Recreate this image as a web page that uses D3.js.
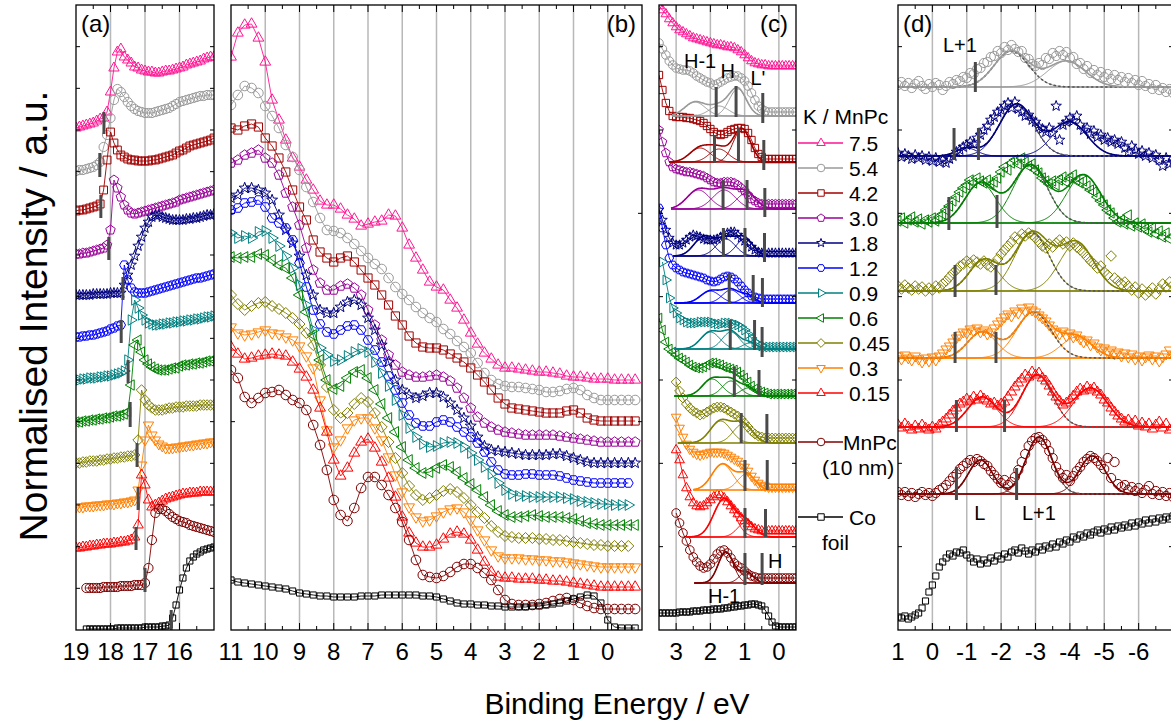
<!DOCTYPE html>
<html>
<head>
<meta charset="utf-8">
<script src="https://cdn.jsdelivr.net/npm/d3@7"></script>
<style>
  body { margin: 0; background: #fff; }
  svg { display: block; }
  text { font-family: "Liberation Sans", Arial, Helvetica, sans-serif; fill: #000; }
</style>
</head>
<body>
<svg id="chart" width="1171" height="724"></svg>
<script>
// ---------- series metadata ----------
const seriesKeys   = ["7.5", "5.4", "4.2", "3.0", "1.8", "1.2", "0.9", "0.6", "0.45", "0.3", "0.15", "MnPc", "Co"];
const seriesColors = ["#ff1493", "#9a9a9a", "#a00000", "#990099", "#000080", "#0000ff", "#008080", "#008000", "#808000", "#ff8000", "#ff0000", "#800000", "#000000"];
const seriesShapes = ["triUp", "circle", "square", "pentagon", "star", "hexagon", "triRight", "triLeft", "diamond", "triDown", "triUp", "circle", "square"];

// ---------- panel (a): 19 -> 15 eV, step 0.1 ----------
const aStart = 19.0, aStep = -0.1;
const a_75   = [5.02,5.03,5.04,5.05,5.06,5.07,5.09,5.11,5.12,5.18,5.38,5.62,5.78,5.81,5.73,5.70,5.67,5.63,5.62,5.60,5.59,5.58,5.58,5.57,5.57,5.58,5.59,5.59,5.60,5.61,5.62,5.63,5.65,5.66,5.67,5.68,5.69,5.71,5.72,5.73,5.73];
const a_54   = [4.59,4.60,4.60,4.61,4.62,4.63,4.65,4.68,4.83,4.95,5.12,5.30,5.41,5.38,5.33,5.28,5.24,5.21,5.19,5.18,5.17,5.17,5.17,5.18,5.19,5.20,5.21,5.22,5.24,5.26,5.28,5.29,5.30,5.31,5.32,5.33,5.34,5.34,5.35,5.35,5.35];
const a_42   = [4.19,4.20,4.20,4.21,4.22,4.23,4.24,4.26,4.40,4.70,4.98,4.87,4.80,4.75,4.73,4.71,4.70,4.70,4.69,4.69,4.69,4.69,4.70,4.70,4.71,4.72,4.73,4.74,4.75,4.77,4.79,4.80,4.82,4.84,4.85,4.86,4.87,4.88,4.89,4.90,4.92];
const a_30   = [3.76,3.76,3.77,3.77,3.78,3.79,3.80,3.81,3.82,3.85,4.00,4.50,4.42,4.33,4.25,4.20,4.17,4.16,4.17,4.18,4.19,4.20,4.21,4.22,4.23,4.24,4.25,4.26,4.27,4.28,4.30,4.31,4.32,4.33,4.34,4.35,4.36,4.37,4.38,4.39,4.40];
const a_18   = [3.35,3.35,3.35,3.35,3.35,3.36,3.36,3.36,3.36,3.36,3.37,3.37,3.37,3.37,3.45,3.55,3.65,3.74,3.84,3.93,4.02,4.08,4.13,4.15,4.15,4.13,4.12,4.11,4.10,4.10,4.10,4.10,4.11,4.11,4.12,4.12,4.13,4.14,4.15,4.15,4.16];
const a_12   = [2.93,2.93,2.94,2.94,2.95,2.95,2.96,2.97,2.98,2.99,3.01,3.02,3.04,3.05,3.65,3.50,3.42,3.38,3.37,3.37,3.37,3.38,3.39,3.40,3.41,3.42,3.43,3.44,3.45,3.46,3.47,3.48,3.49,3.50,3.51,3.52,3.52,3.53,3.54,3.55,3.56];
const a_09   = [2.50,2.50,2.51,2.51,2.52,2.52,2.52,2.53,2.53,2.54,2.54,2.55,2.56,2.57,2.59,2.70,3.10,3.30,3.22,3.15,3.10,3.07,3.06,3.05,3.05,3.06,3.06,3.07,3.07,3.08,3.08,3.09,3.09,3.10,3.10,3.11,3.11,3.12,3.13,3.13,3.14];
const a_06   = [2.08,2.08,2.09,2.09,2.10,2.10,2.11,2.11,2.12,2.12,2.13,2.14,2.14,2.15,2.16,2.18,2.45,2.85,2.90,2.78,2.70,2.66,2.63,2.61,2.60,2.60,2.60,2.61,2.62,2.62,2.64,2.65,2.65,2.66,2.66,2.67,2.67,2.68,2.69,2.69,2.70];
const a_045  = [1.67,1.67,1.68,1.68,1.69,1.69,1.69,1.70,1.70,1.71,1.71,1.72,1.72,1.73,1.73,1.74,1.74,1.75,1.90,2.40,2.30,2.25,2.22,2.20,2.20,2.20,2.21,2.22,2.22,2.23,2.23,2.23,2.24,2.24,2.24,2.24,2.25,2.25,2.25,2.25,2.25];
const a_03   = [1.23,1.23,1.23,1.24,1.24,1.24,1.25,1.25,1.25,1.26,1.26,1.26,1.27,1.27,1.28,1.28,1.29,1.30,1.40,1.65,1.90,2.05,1.95,1.90,1.86,1.84,1.82,1.82,1.82,1.83,1.83,1.84,1.84,1.85,1.85,1.86,1.86,1.87,1.87,1.88,1.88];
const a_015  = [0.82,0.82,0.83,0.83,0.84,0.84,0.85,0.85,0.86,0.86,0.86,0.87,0.87,0.88,0.88,0.89,0.90,0.93,1.05,1.55,1.45,1.30,1.23,1.25,1.27,1.29,1.31,1.32,1.33,1.34,1.35,1.36,1.36,1.37,1.37,1.37,1.38,1.38,1.38,1.38,1.38];
const a_MnPc = [null,null,null,0.42,0.42,0.42,0.42,0.42,0.43,0.43,0.43,0.43,0.43,0.44,0.44,0.44,0.44,0.45,0.45,0.45,0.47,0.62,0.90,1.17,1.21,1.21,1.19,1.16,1.13,1.11,1.09,1.08,1.07,1.05,1.04,1.03,1.02,1.01,1.00,0.99,0.98];
const a_Co   = [null,null,null,0.01,0.01,0.01,0.01,0.01,0.01,0.01,0.01,0.01,0.02,0.02,0.02,0.02,0.02,0.02,0.02,0.02,0.03,0.03,0.03,0.03,0.03,0.04,0.04,0.05,0.12,0.25,0.40,0.52,0.62,0.69,0.73,0.76,0.78,0.80,0.81,0.82,0.83];
// onset markers: [energy, lower, upper]
const a_onsets = [[18.19,4.96,5.18],[18.31,4.53,4.77],[18.28,4.12,4.35],[18.05,3.70,3.93],[17.64,3.30,3.53],[17.69,2.87,3.10],[17.49,2.47,2.70],[17.43,2.03,2.28],[17.23,1.63,1.87],[17.20,1.20,1.43],[17.26,0.80,1.03],[17.00,0.38,0.62],[16.24,0.00,0.20]];

// ---------- panel (b): 11 -> -0.8 eV, step 0.2 ----------
const bStart = 11.0, bStep = -0.2;
const b_75   = [5.73,5.97,6.05,6.06,5.92,5.68,5.30,5.10,4.90,4.72,4.63,4.50,4.40,4.29,4.25,4.25,4.21,4.15,4.11,4.04,4.06,4.08,4.09,4.15,4.14,4.02,3.85,3.72,3.60,3.48,3.43,3.40,3.30,3.22,3.10,2.97,2.86,2.77,2.71,2.65,2.62,2.62,2.61,2.60,2.59,2.58,2.58,2.57,2.56,2.54,2.53,2.53,2.52,2.51,2.51,2.51,2.50,2.50,2.50,2.50];
const b_54   = [5.25,5.35,5.44,5.42,5.37,5.24,5.14,5.02,4.85,4.73,4.60,4.43,4.28,4.12,4.00,3.99,3.97,3.92,3.86,3.79,3.72,3.66,3.61,3.52,3.43,3.36,3.30,3.23,3.17,3.12,3.08,3.01,2.96,2.89,2.83,2.77,2.67,2.57,2.50,2.46,2.44,2.43,2.43,2.42,2.41,2.40,2.38,2.38,2.39,2.41,2.42,2.40,2.35,2.32,2.30,2.30,2.30,2.30,2.30,2.30];
const b_42   = [5.02,5.00,5.04,5.06,5.03,4.92,4.84,4.72,4.58,4.40,4.23,4.10,3.90,3.78,3.72,3.68,3.72,3.74,3.68,3.60,3.52,3.45,3.35,3.25,3.14,3.05,2.94,2.87,2.83,2.82,2.82,2.80,2.76,2.72,2.68,2.62,2.55,2.48,2.40,2.32,2.26,2.22,2.21,2.20,2.19,2.18,2.17,2.17,2.17,2.19,2.20,2.17,2.12,2.10,2.09,2.09,2.09,2.09,2.09,2.09];
const b_30   = [4.67,4.70,4.75,4.77,4.80,4.72,4.67,4.55,4.37,4.23,4.05,3.82,3.60,3.47,3.40,3.40,3.44,3.46,3.42,3.35,3.20,3.05,2.90,2.75,2.65,2.58,2.55,2.53,2.53,2.54,2.55,2.53,2.49,2.42,2.32,2.22,2.13,2.07,2.03,2.00,1.98,1.97,1.96,1.95,1.95,1.95,1.95,1.95,1.94,1.93,1.92,1.91,1.90,1.89,1.88,1.88,1.88,1.88,1.88,1.88];
const b_18   = [4.32,4.35,4.42,4.42,4.40,4.37,4.30,4.15,4.00,3.87,3.74,3.55,3.35,3.20,3.17,3.17,3.23,3.28,3.30,3.25,3.12,3.00,2.85,2.68,2.50,2.40,2.35,2.32,2.34,2.37,2.37,2.33,2.27,2.20,2.12,2.04,1.93,1.84,1.80,1.79,1.78,1.77,1.76,1.75,1.75,1.75,1.75,1.76,1.76,1.74,1.72,1.70,1.68,1.67,1.67,1.67,1.67,1.67,1.67,1.67];
const b_12   = [4.20,4.22,4.27,4.28,4.30,4.23,4.12,4.07,4.02,3.90,3.67,3.43,3.20,3.06,2.98,2.96,3.00,3.04,3.05,3.00,2.90,2.80,2.68,2.54,2.40,2.27,2.15,2.07,2.04,2.04,2.08,2.10,2.08,2.03,1.98,1.93,1.87,1.78,1.68,1.60,1.56,1.55,1.55,1.56,1.56,1.55,1.55,1.55,1.54,1.52,1.50,1.49,1.48,1.47,1.47,1.47,1.47,1.47,1.47,null];
const b_09   = [3.97,3.92,3.94,3.92,3.98,3.99,3.92,3.84,3.74,3.62,3.45,3.25,3.00,2.82,2.75,2.69,2.70,2.74,2.78,2.81,2.78,2.68,2.57,2.44,2.30,2.15,2.02,1.93,1.86,1.83,1.84,1.87,1.88,1.87,1.83,1.77,1.70,1.63,1.56,1.47,1.40,1.36,1.34,1.34,1.33,1.33,1.33,1.33,1.33,1.32,1.31,1.29,1.28,1.27,1.26,1.26,1.25,1.25,1.25,null];
const b_06   = [3.73,3.72,3.73,3.73,3.76,3.75,3.70,3.65,3.62,3.52,3.35,3.18,2.95,2.70,2.50,2.41,2.44,2.52,2.58,2.60,2.52,2.40,2.26,2.12,1.98,1.83,1.70,1.62,1.57,1.58,1.62,1.65,1.63,1.58,1.52,1.46,1.40,1.33,1.25,1.19,1.15,1.13,1.13,1.14,1.15,1.14,1.13,1.13,1.13,1.12,1.11,1.09,1.07,1.06,1.05,1.05,1.05,1.05,1.05,1.05];
const b_045  = [3.35,3.26,3.20,3.24,3.27,3.28,3.24,3.21,3.17,3.12,3.06,2.97,2.85,2.65,2.43,2.20,2.12,2.17,2.26,2.32,2.28,2.17,2.03,1.88,1.72,1.57,1.44,1.35,1.30,1.32,1.35,1.39,1.41,1.38,1.32,1.25,1.18,1.12,1.04,0.98,0.94,0.93,0.92,0.92,0.92,0.91,0.91,0.90,0.90,0.89,0.88,0.87,0.86,0.85,0.85,0.84,0.84,0.84,0.84,null];
const b_03   = [3.03,2.97,2.95,2.96,2.98,3.00,2.97,2.96,2.93,2.90,2.84,2.74,2.62,2.30,2.00,1.83,1.90,2.02,2.10,2.12,2.12,2.02,1.90,1.73,1.55,1.38,1.23,1.13,1.09,1.10,1.14,1.18,1.21,1.22,1.18,1.10,1.00,0.90,0.80,0.74,0.72,0.72,0.72,0.71,0.71,0.70,0.70,0.69,0.69,0.68,0.67,0.66,0.65,0.64,0.63,0.63,0.63,0.63,0.63,0.63];
const b_015  = [2.83,2.76,2.71,2.72,2.74,2.75,2.76,2.75,2.74,2.68,2.61,2.53,2.40,2.22,1.98,1.70,1.54,1.62,1.77,1.88,1.91,1.82,1.68,1.52,1.33,1.13,0.97,0.87,0.83,0.83,0.85,0.91,0.96,0.98,0.96,0.90,0.80,0.68,0.58,0.53,0.52,0.52,0.51,0.51,0.51,0.50,0.50,0.49,0.49,0.48,0.47,0.46,0.45,0.44,0.43,0.43,0.43,0.43,0.43,0.43];
const b_MnPc = [2.60,2.52,2.33,2.27,2.32,2.37,2.38,2.40,2.35,2.30,2.27,2.20,2.05,1.85,1.60,1.30,1.15,1.09,1.22,1.42,1.53,1.53,1.45,1.35,1.22,1.08,0.90,0.70,0.55,0.53,0.52,0.54,0.58,0.63,0.66,0.66,0.62,0.57,0.50,0.40,0.30,0.26,0.25,0.25,0.25,0.26,0.27,0.29,0.31,0.32,0.30,0.27,0.24,0.22,0.21,0.21,0.21,0.21,0.21,0.21];
const b_Co   = [0.50,0.48,0.47,0.46,0.45,0.44,0.43,0.42,0.41,0.39,0.37,0.36,0.35,0.34,0.34,0.33,0.33,0.33,0.33,0.34,0.34,0.34,0.35,0.35,0.35,0.35,0.35,0.35,0.34,0.34,0.33,0.31,0.29,0.27,0.26,0.26,0.25,0.25,0.24,0.24,0.23,0.23,0.23,0.23,0.24,0.24,0.25,0.26,0.27,0.29,0.31,0.33,0.35,0.34,0.27,0.10,0.03,0.02,0.02,0.02];

// ---------- panel (c): 3.5 -> -0.5 eV, step 0.1 ----------
const cStart = 3.5, cStep = -0.1;
const c_75   = [6.24,6.20,6.16,6.11,6.07,6.03,6.00,5.98,5.96,5.94,5.92,5.91,5.90,5.89,5.88,5.87,5.86,5.85,5.85,5.84,5.83,5.83,5.82,5.80,5.78,5.75,5.72,5.69,5.67,5.66,5.65,5.65,5.64,5.64,5.64,5.64,5.64,5.64,5.64,5.64,5.64];
const c_54   = [5.87,5.81,5.75,5.69,5.65,5.62,5.61,5.60,5.60,5.59,5.57,5.54,5.52,5.50,5.48,5.47,5.45,5.46,5.48,5.50,5.52,5.53,5.54,5.54,5.52,5.49,5.44,5.37,5.30,5.24,5.21,5.19,5.18,5.18,5.18,5.18,5.18,5.18,5.18,5.18,5.18];
const c_42   = [5.55,5.40,5.27,5.19,5.14,5.13,5.13,5.13,5.12,5.12,5.11,5.10,5.09,5.07,5.04,5.01,4.98,4.96,4.95,4.96,4.98,5.00,5.01,5.02,5.02,5.01,4.97,4.90,4.82,4.76,4.73,4.71,4.71,4.71,4.71,4.71,4.71,4.71,4.71,4.71,4.71];
const c_30   = [5.00,4.88,4.77,4.68,4.63,4.61,4.60,4.59,4.58,4.58,4.57,4.56,4.55,4.54,4.52,4.50,4.48,4.47,4.47,4.48,4.48,4.48,4.47,4.45,4.42,4.39,4.35,4.31,4.29,4.27,4.26,4.26,4.26,4.26,4.26,4.26,4.26,4.26,4.26,4.26,4.26];
const c_18   = [4.20,4.10,4.00,3.92,3.87,3.85,3.85,3.87,3.90,3.93,3.95,3.94,3.93,3.91,3.90,3.90,3.90,3.91,3.93,3.95,3.97,3.98,3.98,3.95,3.92,3.89,3.86,3.83,3.80,3.78,3.77,3.77,3.77,3.77,3.77,3.77,3.77,3.77,3.77,3.77,3.77];
const c_12   = [4.22,4.02,3.85,3.72,3.65,3.62,3.60,3.58,3.57,3.56,3.55,3.54,3.53,3.52,3.50,3.49,3.48,3.49,3.51,3.53,3.54,3.53,3.51,3.48,3.44,3.40,3.37,3.34,3.33,3.32,3.31,3.31,3.31,3.31,3.31,3.31,3.31,3.31,3.31,3.31,3.31];
const c_09   = [null,3.68,3.50,3.32,3.22,3.17,3.12,3.10,3.08,3.07,3.07,3.07,3.08,3.08,3.08,3.08,3.07,3.06,3.06,3.07,3.07,3.07,3.06,3.05,3.03,3.00,2.96,2.92,2.88,2.86,2.84,2.83,2.83,2.83,2.83,2.83,2.83,2.83,2.83,2.83,2.83];
const c_06   = [3.12,3.00,2.88,2.81,2.78,2.75,2.72,2.70,2.68,2.65,2.63,2.62,2.62,2.63,2.65,2.67,2.67,2.66,2.65,2.63,2.62,2.61,2.60,2.58,2.55,2.52,2.48,2.44,2.41,2.39,2.38,2.37,2.36,2.36,2.36,2.36,2.36,2.36,2.36,2.36,2.36];
const c_045  = [null,null,null,null,null,2.48,2.39,2.32,2.26,2.22,2.19,2.17,2.15,2.16,2.18,2.20,2.22,2.23,2.23,2.22,2.20,2.18,2.16,2.14,2.11,2.07,2.03,1.99,1.96,1.94,1.93,1.92,1.92,1.92,1.92,1.92,1.92,1.92,1.92,1.92,1.92];
const c_03   = [null,null,null,null,null,2.13,2.02,1.93,1.86,1.81,1.78,1.76,1.75,1.76,1.77,1.78,1.78,1.78,1.78,1.77,1.75,1.73,1.71,1.69,1.66,1.63,1.59,1.54,1.50,1.47,1.45,1.44,1.43,1.43,1.43,1.43,1.43,1.43,1.43,1.43,1.43];
const c_015  = [null,null,null,null,null,1.80,1.70,1.55,1.42,1.33,1.27,1.24,1.23,1.24,1.27,1.30,1.33,1.35,1.35,1.32,1.28,1.24,1.20,1.16,1.12,1.09,1.06,1.03,1.01,1.00,0.99,0.99,0.99,0.99,0.99,0.99,0.99,0.99,0.99,0.99,0.99];
const c_MnPc = [null,null,null,null,null,1.17,1.07,0.97,0.89,0.80,0.73,0.68,0.64,0.62,0.63,0.66,0.71,0.76,0.79,0.80,0.77,0.72,0.67,0.64,0.62,0.59,0.56,0.54,0.53,0.52,0.52,0.52,0.52,0.52,0.52,0.52,0.52,0.52,0.52,0.52,0.52];
const c_Co   = [0.17,0.17,0.17,0.17,0.17,0.17,0.18,0.18,0.18,0.18,0.19,0.19,0.19,0.20,0.20,0.20,0.21,0.21,0.21,0.22,0.22,0.23,0.23,0.24,0.24,0.25,0.25,0.26,0.26,0.25,0.24,0.20,0.14,0.08,0.04,0.03,0.03,0.03,0.03,0.03,0.03];
// peak fits in (c): baseline level, baseline start energy, gaussian components [centre, height, width]
const cFitKeys  = ["5.4", "4.2", "3.0", "1.8", "1.2", "0.9", "0.6", "0.45", "0.3", "0.15", "MnPc"];
const cBase     = [5.14, 4.68, 4.21, 3.74, 3.27, 2.81, 2.34, 1.87, 1.40, 0.93, 0.47];
const cBaseFrom = [3.12, 3.20, 3.15, 3.08, 3.05, 3.05, 3.05, 2.95, 2.50, 2.70, 2.47];
const cPeaks = [
  [[2.45,0.14,0.30],[1.75,0.10,0.28],[1.20,0.27,0.25]],
  [[2.30,0.14,0.30],[1.75,0.13,0.28],[1.08,0.33,0.25]],
  [[2.35,0.19,0.33],[1.60,0.19,0.33],[0.95,0.16,0.28]],
  [[2.20,0.19,0.28],[1.55,0.17,0.28],[1.00,0.17,0.25]],
  [[2.00,0.12,0.28],[1.40,0.13,0.25],[0.90,0.07,0.20]],
  [[2.00,0.17,0.28],[1.40,0.17,0.25],[0.85,0.06,0.20]],
  [[1.95,0.17,0.28],[1.40,0.15,0.25],[0.90,0.08,0.22]],
  [[1.70,0.22,0.30],[1.05,0.19,0.28]],
  [[1.65,0.26,0.30],[0.95,0.16,0.25]],
  [[1.60,0.38,0.30],[0.95,0.15,0.25]],
  [[1.55,0.31,0.22],[0.95,0.11,0.20]]
];
const cMarks = [
  [[1.83,5.13,5.43],[1.25,5.13,5.44],[0.47,5.07,5.37]],
  [[1.88,4.67,4.95],[1.18,4.67,5.02],[0.44,4.60,4.90]],
  [[1.63,4.20,4.50],[0.93,4.20,4.50],[0.41,4.13,4.42]],
  [[1.62,3.73,4.02],[0.99,3.73,4.02],[0.42,3.68,3.97]],
  [[1.45,3.26,3.57],[0.75,3.28,3.55],[0.48,3.23,3.52]],
  [[1.42,2.80,3.10],[0.71,2.80,3.10],[0.49,2.73,3.03]],
  [[1.30,2.33,2.63],[0.58,2.33,2.60]],
  [[1.10,1.87,2.17],[0.35,1.87,2.16]],
  [[0.99,1.39,1.70],[0.34,1.40,1.70]],
  [[0.99,0.92,1.22],[0.39,0.93,1.21]],
  [[0.99,0.45,0.77],[0.49,0.45,0.77]]
];
const cNotes = [["H-1",2.30,5.62],["H",1.49,5.52],["L'",0.61,5.45],["H",0.11,0.62],["H-1",1.60,0.27]];

// ---------- panel (d): 1 -> -7 eV, step 0.1 ----------
const dStart = 1.0, dStep = -0.1;
const d_54   = [5.45,5.48,5.44,5.47,5.42,5.46,5.49,5.44,5.41,5.46,5.43,5.47,5.45,5.40,5.44,5.48,5.46,5.50,5.49,5.53,5.52,5.57,5.56,5.61,5.62,5.67,5.68,5.73,5.74,5.79,5.77,5.83,5.80,5.85,5.81,5.78,5.79,5.72,5.71,5.66,5.64,5.67,5.65,5.72,5.71,5.77,5.74,5.79,5.75,5.78,5.72,5.73,5.66,5.67,5.61,5.64,5.57,5.60,5.55,5.58,5.53,5.56,5.51,5.55,5.50,5.53,5.48,5.52,5.47,5.50,5.45,5.49,5.44,5.46,5.41,5.45,5.40,5.42,5.38,5.41,5.37];
const d_18   = [4.77,4.73,4.76,4.74,4.71,4.75,4.72,4.74,4.70,4.73,4.69,4.72,4.68,4.70,4.67,4.71,4.74,4.78,4.80,4.83,4.85,4.88,4.86,4.92,4.95,5.00,5.04,5.10,5.13,5.18,5.20,5.24,5.27,5.22,5.28,5.21,5.18,5.14,5.15,5.10,5.08,5.03,5.01,4.98,5.02,4.97,5.24,4.90,5.05,5.08,5.12,5.09,5.14,5.05,5.00,5.02,4.96,4.99,4.93,4.95,4.90,4.92,4.88,4.90,4.86,4.88,4.82,4.78,4.84,4.80,4.76,4.79,4.74,4.77,4.72,4.75,4.70,4.64,4.72,4.66,4.68];
const d_06   = [4.09,4.12,4.07,4.10,4.13,4.08,4.11,4.06,4.10,4.08,4.12,4.09,4.13,4.16,4.20,4.24,4.29,4.33,4.38,4.42,4.45,4.50,4.47,4.52,4.49,4.47,4.50,4.45,4.48,4.52,4.58,4.63,4.60,4.67,4.70,4.66,4.72,4.68,4.64,4.66,4.60,4.57,4.52,4.49,4.46,4.49,4.45,4.50,4.53,4.48,4.52,4.55,4.50,4.47,4.49,4.44,4.40,4.38,4.33,4.29,4.25,4.20,4.17,4.12,4.08,4.10,4.06,4.15,4.04,4.07,4.03,4.06,4.01,3.98,4.02,3.96,3.99,3.93,3.97,3.91,3.94];
const d_045  = [3.44,3.41,3.45,3.42,3.40,3.44,3.41,3.43,3.39,3.42,3.40,3.44,3.42,3.46,3.49,3.53,3.57,3.60,3.64,3.66,3.69,3.67,3.70,3.68,3.66,3.69,3.65,3.63,3.66,3.71,3.76,3.80,3.84,3.88,3.93,3.91,3.96,3.94,3.97,3.95,3.92,3.88,3.84,3.82,3.86,3.83,3.87,3.90,3.86,3.88,3.84,3.87,3.83,3.80,3.77,3.73,3.69,3.66,3.62,3.64,3.58,3.55,3.74,3.52,3.49,3.46,3.48,3.44,3.40,3.43,3.37,3.41,3.35,3.38,3.42,3.36,3.41,3.46,3.43,3.48,3.45];
const d_03   = [2.74,2.71,2.75,2.72,2.70,2.74,2.71,2.68,2.72,2.69,2.73,2.70,2.74,2.77,2.81,2.84,2.88,2.92,2.95,2.98,2.97,3.01,2.99,3.02,2.98,3.00,2.96,2.98,3.02,3.06,3.09,3.13,3.16,3.14,3.19,3.17,3.22,3.19,3.23,3.20,3.18,3.15,3.12,3.09,3.05,3.01,2.98,2.96,2.99,2.94,2.97,2.93,2.95,2.91,2.88,2.90,2.85,2.87,2.83,2.80,2.82,2.78,2.80,2.76,2.78,2.74,2.77,2.73,2.76,2.71,2.74,2.70,2.73,2.75,2.71,2.74,2.69,2.73,2.76,2.80,2.75];
const d_015  = [2.05,2.02,2.06,2.03,2.00,2.04,2.01,2.05,2.02,2.00,2.03,2.01,2.05,2.08,2.11,2.15,2.19,2.22,2.26,2.28,2.31,2.29,2.33,2.30,2.34,2.31,2.29,2.26,2.27,2.24,2.26,2.28,2.33,2.38,2.43,2.47,2.51,2.55,2.53,2.58,2.55,2.57,2.52,2.49,2.44,2.38,2.33,2.29,2.25,2.27,2.30,2.34,2.38,2.41,2.39,2.43,2.40,2.42,2.38,2.35,2.30,2.27,2.22,2.18,2.14,2.11,2.08,2.10,2.06,2.09,2.04,2.07,2.03,2.06,2.01,2.05,2.08,2.02,2.06,2.00,2.03];
const d_MnPc = [1.38,1.35,1.38,1.34,1.37,1.33,1.36,1.38,1.35,1.37,1.34,1.37,1.40,1.42,1.45,1.49,1.53,1.56,1.61,1.64,1.67,1.70,1.68,1.71,1.69,1.66,1.64,1.59,1.55,1.51,1.47,1.50,1.45,1.48,1.53,1.60,1.68,1.76,1.84,1.89,1.92,1.93,1.90,1.86,1.79,1.72,1.63,1.57,1.52,1.55,1.49,1.54,1.59,1.63,1.68,1.71,1.74,1.72,1.69,1.65,1.61,1.72,1.52,1.68,1.46,1.43,1.45,1.40,1.43,1.39,1.42,1.37,1.40,1.44,1.36,1.39,1.35,1.38,1.34,1.37,1.33];
const d_Co   = [0.13,0.12,0.14,0.11,0.13,0.15,0.17,0.22,0.29,0.38,0.45,0.54,0.63,0.68,0.72,0.76,0.74,0.78,0.77,0.80,0.75,0.72,0.68,0.71,0.66,0.70,0.67,0.72,0.69,0.74,0.71,0.76,0.73,0.78,0.80,0.77,0.82,0.79,0.76,0.80,0.78,0.83,0.80,0.84,0.82,0.86,0.83,0.88,0.86,0.90,0.88,0.93,0.91,0.95,0.93,0.97,0.95,0.98,1.00,0.97,1.01,0.99,1.03,1.00,1.04,1.02,1.05,1.03,1.07,1.04,1.08,1.06,1.10,1.07,1.11,1.08,1.12,1.10,1.13,1.11,1.14];
const dFitKeys = ["5.4", "1.8", "0.6", "0.45", "0.3", "0.15", "MnPc"];
const dBase    = [5.43, 4.74, 4.07, 3.39, 2.72, 2.03, 1.36];
const dPeaks = [
  [[-2.30,0.36,0.50],[-3.90,0.26,0.55]],
  [[-1.00,0.08,0.30],[-2.45,0.52,0.50],[-4.00,0.34,0.50]],
  [[-1.40,0.40,0.45],[-2.85,0.58,0.50],[-4.40,0.48,0.50]],
  [[-1.50,0.31,0.42],[-2.90,0.58,0.50],[-4.20,0.48,0.50]],
  [[-1.45,0.26,0.42],[-2.95,0.46,0.50],[-4.20,0.21,0.45]],
  [[-1.45,0.30,0.42],[-3.05,0.52,0.45],[-4.60,0.39,0.50]],
  [[-1.40,0.34,0.35],[-3.10,0.57,0.38],[-4.65,0.38,0.38]]
];
const dMarks = [
  [[-1.25,5.38,5.68]],
  [[-0.63,4.70,5.02],[-1.34,4.70,5.02]],
  [[-0.48,4.00,4.33],[-1.88,4.02,4.35]],
  [[-0.66,3.33,3.65],[-1.85,3.35,3.65]],
  [[-0.66,2.67,2.98],[-1.85,2.67,2.98]],
  [[-0.70,1.98,2.30],[-2.10,1.98,2.30]],
  [[-0.70,1.30,1.63],[-2.45,1.30,1.62]]
];
const dNotes = [["L+1",-0.80,5.78],["L",-1.38,1.10],["L+1",-3.10,1.10]];

// ---------- tick labels ----------
const aTicks = [19, 18, 17, 16];
const bTicks = [11, 10, 9, 8, 7, 6, 5, 4, 3, 2, 1, 0];
const cTicks = [3, 2, 1, 0];
const dTicks = [1, 0, -1, -2, -3, -4, -5, -6];

// ---------- layout ----------
const svg = d3.select("#chart");
const yScale = d3.scaleLinear().domain([0, 6.25]).range([630, 5]);
const panels = [
  { id: "a", x0: 76,  x1: 214,  domain: [19, 15],  ticks: aTicks, yTick: 6.25 / 15,
    start: aStart, step: aStep,
    data: [a_75, a_54, a_42, a_30, a_18, a_12, a_09, a_06, a_045, a_03, a_015, a_MnPc, a_Co],
    label: "(a)", labelX: 81, labelAnchor: "start", r: 4.6, lines: true },
  { id: "b", x0: 231, x1: 642,  domain: [11, -1],  ticks: bTicks, yTick: 6.25 * 2 / 6,
    start: bStart, step: bStep,
    data: [b_75, b_54, b_42, b_30, b_18, b_12, b_09, b_06, b_045, b_03, b_015, b_MnPc, b_Co],
    label: "(b)", labelX: 636, labelAnchor: "end", r: 4.8, lines: true },
  { id: "c", x0: 659, x1: 796,  domain: [3.5, -0.5], ticks: cTicks, yTick: 6.25 * 2 / 15,
    start: cStart, step: cStep,
    data: [c_75, c_54, c_42, c_30, c_18, c_12, c_09, c_06, c_045, c_03, c_015, c_MnPc, c_Co],
    label: "(c)", labelX: 788, labelAnchor: "end", r: 4.3, lines: true },
  { id: "d", x0: 898, x1: 1173, domain: [1, -7],   ticks: dTicks, yTick: 6.25 * 2 / 15,
    start: dStart, step: dStep,
    data: [null, d_54, null, null, d_18, null, null, d_06, d_045, d_03, d_015, d_MnPc, d_Co],
    label: "(d)", labelX: 903, labelAnchor: "start", r: 4.6, lines: false }
];

// ---------- marker shapes ----------
function markerPath(shape, r) {
  const p = d3.path();
  const poly = pts => { pts.forEach((q, i) => i ? p.lineTo(q[0], q[1]) : p.moveTo(q[0], q[1])); p.closePath(); };
  const reg = (n, rad, rot) => d3.range(n).map(i => {
    const a = rot + i * 2 * Math.PI / n; return [rad * Math.cos(a), rad * Math.sin(a)];
  });
  switch (shape) {
    case "circle":   p.moveTo(r, 0); p.arc(0, 0, r, 0, 2 * Math.PI); p.closePath(); break;
    case "square":   p.rect(-r * 0.85, -r * 0.85, r * 1.7, r * 1.7); break;
    case "triUp":    poly(reg(3, r * 1.3, -Math.PI / 2)); break;
    case "triDown":  poly(reg(3, r * 1.3, Math.PI / 2)); break;
    case "triLeft":  poly(reg(3, r * 1.3, Math.PI)); break;
    case "triRight": poly(reg(3, r * 1.3, 0)); break;
    case "diamond":  poly([[0, -r * 1.15], [r * 1.15, 0], [0, r * 1.15], [-r * 1.15, 0]]); break;
    case "pentagon": poly(reg(5, r * 1.08, -Math.PI / 2)); break;
    case "hexagon":  poly(reg(6, r * 1.02, 0)); break;
    case "star":     poly(d3.range(10).map(i => {
                       const a = -Math.PI / 2 + i * Math.PI / 5, rr = i % 2 ? r * 0.5 : r * 1.2;
                       return [rr * Math.cos(a), rr * Math.sin(a)];
                     })); break;
  }
  return p.toString();
}

const gauss = (x, comps) => comps.reduce((s, [c, h, w]) => s + h * Math.exp(-((x - c) ** 2) / (2 * w * w)), 0);
const H0 = 5, H1 = 630;

panels.forEach(P => {
  const x = d3.scaleLinear().domain(P.domain).range([P.x0, P.x1]);
  const g = svg.append("g");
  const clipId = "clip-" + P.id;
  svg.append("clipPath").attr("id", clipId)
    .append("rect").attr("x", P.x0).attr("y", H0).attr("width", P.x1 - P.x0).attr("height", H1 - H0);
  const plot = g.append("g").attr("clip-path", `url(#${clipId})`);

  // vertical grid at whole eV
  const lo = Math.min(...P.domain), hi = Math.max(...P.domain);
  d3.range(Math.ceil(lo), Math.floor(hi) + 1).filter(v => v > lo && v < hi).forEach(v => {
    plot.append("line").attr("x1", x(v)).attr("x2", x(v)).attr("y1", H0).attr("y2", H1)
      .attr("stroke", "#b8b8b8").attr("stroke-width", 1.5);
  });

  // spectra
  P.data.forEach((vals, si) => {
    if (!vals) return;
    const pts = vals.map((v, i) => [Math.round((P.start + P.step * i) * 100) / 100, v]).filter(d => d[1] != null);
    const col = seriesColors[si];
    if (P.lines) {
      plot.append("path")
        .attr("d", d3.line().x(d => x(d[0])).y(d => yScale(d[1]))(pts))
        .attr("fill", "none").attr("stroke", col).attr("stroke-width", 0.9);
    }
    const r = seriesKeys[si] === "Co" ? 3.6 : P.r;
    const mp = markerPath(seriesShapes[si], r);
    plot.append("g").selectAll("path").data(pts).enter().append("path")
      .attr("d", mp)
      .attr("transform", d => `translate(${x(d[0]).toFixed(2)},${yScale(d[1]).toFixed(2)})`)
      .attr("fill", "none").attr("stroke", col).attr("stroke-width", 1);
  });

  // peak fits
  const drawFits = (keys, base, baseFrom, peaks, marks, dotted) => {
    keys.forEach((k, i) => {
      const col = seriesColors[seriesKeys.indexOf(k)];
      const from = baseFrom ? baseFrom[i] : hi;
      const xs = d3.range(from, lo - 0.001, -0.02);
      const line = d3.line().x(d => x(d[0])).y(d => yScale(d[1]));
      plot.append("line").attr("x1", x(from)).attr("x2", x(lo)).attr("y1", yScale(base[i])).attr("y2", yScale(base[i]))
        .attr("stroke", col).attr("stroke-width", 1.5);
      peaks[i].forEach(comp => {
        plot.append("path").attr("d", line(xs.map(e => [e, base[i] + gauss(e, [comp])])))
          .attr("fill", "none").attr("stroke", col).attr("stroke-width", 1);
      });
      if (dotted) {
        const sub = peaks[i].length > 2 ? peaks[i].slice(0, 2) : peaks[i].slice(0, 1);
        plot.append("path").attr("d", line(xs.map(e => [e, base[i] + gauss(e, sub)])))
          .attr("fill", "none").attr("stroke", "#555").attr("stroke-width", 1.6).attr("stroke-dasharray", "1.2,3.5")
          .attr("stroke-linecap", "round");
      }
      plot.append("path").attr("d", line(xs.map(e => [e, base[i] + gauss(e, peaks[i])])))
        .attr("fill", "none").attr("stroke", col).attr("stroke-width", 1.6);
      marks[i].forEach(([e, y1, y2]) => {
        plot.append("line").attr("x1", x(e)).attr("x2", x(e)).attr("y1", yScale(y1)).attr("y2", yScale(y2))
          .attr("stroke", "#4a4a4a").attr("stroke-width", 3);
      });
    });
  };
  if (P.id === "c") drawFits(cFitKeys, cBase, cBaseFrom, cPeaks, cMarks, false);
  if (P.id === "d") drawFits(dFitKeys, dBase, null, dPeaks, dMarks, true);
  if (P.id === "a") {
    a_onsets.forEach(([e, y1, y2]) => {
      plot.append("line").attr("x1", x(e)).attr("x2", x(e)).attr("y1", yScale(y1)).attr("y2", yScale(y2))
        .attr("stroke", "#4a4a4a").attr("stroke-width", 3);
    });
  }
  const notes = P.id === "c" ? cNotes : P.id === "d" ? dNotes : [];
  notes.forEach(([t, e, v]) => {
    g.append("text").attr("x", x(e)).attr("y", yScale(v)).attr("text-anchor", "middle")
      .attr("font-size", 20).text(t);
  });

  // frame
  g.append("rect").attr("x", P.x0).attr("y", H0).attr("width", P.x1 - P.x0).attr("height", H1 - H0)
    .attr("fill", "none").attr("stroke", "#000").attr("stroke-width", 1.3);

  // x ticks (inward, top and bottom), whole and half eV
  d3.range(Math.ceil(lo * 2), Math.floor(hi * 2) + 1).map(v => v / 2).filter(v => v > lo && v < hi).forEach(v => {
    const major = Number.isInteger(v), len = major ? 7 : 4;
    g.append("line").attr("x1", x(v)).attr("x2", x(v)).attr("y1", H1).attr("y2", H1 - len).attr("stroke", "#000").attr("stroke-width", 1);
    g.append("line").attr("x1", x(v)).attr("x2", x(v)).attr("y1", H0).attr("y2", H0 + len).attr("stroke", "#000").attr("stroke-width", 1);
  });
  // y ticks (inward, both sides)
  for (let v = P.yTick; v < 6.25 - 1e-6; v += P.yTick) {
    const yy = yScale(v);
    g.append("line").attr("x1", P.x0).attr("x2", P.x0 + 4).attr("y1", yy).attr("y2", yy).attr("stroke", "#000").attr("stroke-width", 1);
    g.append("line").attr("x1", P.x1).attr("x2", P.x1 - 4).attr("y1", yy).attr("y2", yy).attr("stroke", "#000").attr("stroke-width", 1);
  }
  // tick labels
  P.ticks.forEach(t => {
    g.append("text").attr("x", x(t)).attr("y", 660).attr("text-anchor", "middle").attr("font-size", 24).text(String(t));
  });
  // panel tag
  g.append("text").attr("x", P.labelX).attr("y", 32).attr("text-anchor", P.labelAnchor).attr("font-size", 24).text(P.label);
});

// ---------- legend ----------
const leg = svg.append("g");
leg.append("text").attr("x", 803).attr("y", 124).attr("font-size", 21).text("K / MnPc");
seriesKeys.forEach((k, i) => {
  const yy = i < 11 ? 143 + 25 * i : (k === "MnPc" ? 442 : 517);
  const col = seriesColors[i];
  leg.append("line").attr("x1", 798).attr("x2", 843).attr("y1", yy).attr("y2", yy).attr("stroke", col).attr("stroke-width", 1.5);
  leg.append("path").attr("d", markerPath(seriesShapes[i], 3.8)).attr("transform", `translate(821,${yy})`)
    .attr("fill", "#fff").attr("stroke", col).attr("stroke-width", 1);
  leg.append("text").attr("x", k === "MnPc" ? 843 : 849).attr("y", yy + 7.5).attr("font-size", 21).text(k);
});
leg.append("text").attr("x", 822).attr("y", 475).attr("font-size", 21).text("(10 nm)");
leg.append("text").attr("x", 822).attr("y", 550).attr("font-size", 21).text("foil");

// ---------- axis titles ----------
svg.append("text").attr("x", 617).attr("y", 714).attr("text-anchor", "middle").attr("font-size", 30).text("Binding Energy / eV");
svg.append("text").attr("transform", "translate(47,316) rotate(-90)").attr("text-anchor", "middle").attr("font-size", 39)
  .text("Normalised Intensity / a.u.");
</script>
</body>
</html>
